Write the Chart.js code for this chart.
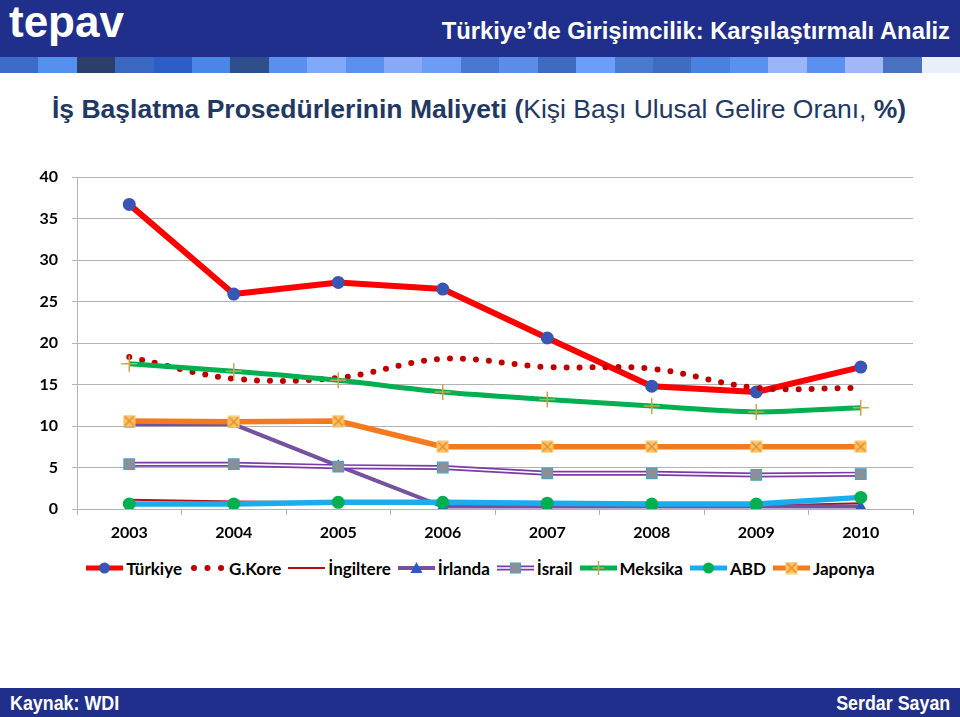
<!DOCTYPE html>
<html>
<head>
<meta charset="utf-8">
<script src="https://cdn.jsdelivr.net/npm/chart.js@4.4.1/dist/chart.umd.min.js"></script>
<style>
  html, body { margin:0; padding:0; background:#fff; }
  #page { position:relative; width:960px; height:717px; overflow:hidden; background:#fff; }
  #hdr { position:absolute; left:0; top:0; width:960px; height:57px; background:#1F2F8B; }
  #logo { position:absolute; left:9px; top:-3px; font:bold 44px "Liberation Sans", Arial, sans-serif; color:#fff; }
  #htitle { position:absolute; right:10px; top:17px; font:bold 23.8px "Liberation Sans", Arial, sans-serif; color:#fff; white-space:nowrap; }
  #stripe { position:absolute; left:0; top:57px; width:960px; height:16px; display:flex; }
  #stripe div { flex:1 1 0; height:16px; }
  #title { position:absolute; left:52px; top:94px; font:26.5px "Liberation Sans", Arial, sans-serif; color:#1F3864; white-space:nowrap; }
  #title b { font-weight:bold; }
  #wrap { position:absolute; left:0; top:150px; width:960px; height:400px; }
  #legend { position:absolute; left:0; top:557px; width:968px; height:22px; display:flex; justify-content:center; align-items:center; font:bold 17px Lato, "Open Sans", sans-serif; color:#000; white-space:nowrap; }
  #legend .it { display:flex; align-items:center; margin-right:7px; }
  #legend canvas { margin-right:3px; }
  #ftr { position:absolute; left:0; top:688px; width:960px; height:29px; background:#1F2F8B; }
  #ftr span { position:absolute; top:3px; font:bold 21px "Liberation Sans", Arial, sans-serif; color:#fff; white-space:nowrap; }
</style>
</head>
<body>
<div id="page">
  <div id="hdr">
    <div id="logo">tepav</div>
    <div id="htitle">Türkiye’de Girişimcilik: Karşılaştırmalı Analiz</div>
  </div>
  <div id="stripe"></div>
  <div id="title"><b>İş Başlatma Prosedürlerinin Maliyeti (</b>Kişi Başı Ulusal Gelire Oranı, <b>%)</b></div>
  <div id="wrap"><canvas id="c"></canvas></div>
  <div id="legend"></div>
  <div id="ftr"><span style="left:10px; transform:scaleX(0.85); transform-origin:left center;">Kaynak: WDI</span><span style="right:10px; transform:scaleX(0.85); transform-origin:right center;">Serdar Sayan</span></div>
</div>
<script>
// ---- data ----
const years = ['2003','2004','2005','2006','2007','2008','2009','2010'];
const turkiye   = [36.7, 25.9, 27.3, 26.5, 20.6, 14.8, 14.1, 17.1];
const gkore     = [18.3, 15.7, 15.8, 18.1, 17.1, 16.9, 14.6, 14.6];
const ingiltere = [1.1, 0.9, 0.8, 0.7, 0.7, 0.6, 0.4, 0.7];
const irlanda   = [10.2, 10.2, 5.2, 0.3, 0.3, 0.3, 0.3, 0.3];
const israil    = [5.4, 5.4, 5.1, 5.0, 4.3, 4.3, 4.1, 4.2];
const meksika   = [17.5, 16.6, 15.5, 14.1, 13.2, 12.4, 11.7, 12.2];
const abd       = [0.6, 0.6, 0.8, 0.8, 0.7, 0.6, 0.6, 1.4];
const japonya   = [10.6, 10.5, 10.6, 7.5, 7.5, 7.5, 7.5, 7.5];
const seriesNames = ['Türkiye','G.Kore','İngiltere','İrlanda','İsrail','Meksika','ABD','Japonya'];
const yTicks = [0, 5, 10, 15, 20, 25, 30, 35, 40];

// ---- header stripe ----
const stripeColors = ['#3D6CC8','#5590EE','#2C3F68','#3A68C0','#2D5EC8','#4B85E6','#2F4F8C','#5B8FEF','#80A8F8','#5C90F0','#88AAF6','#6E9CF4','#4A78D0','#5A8CE8','#3E6AC0','#6A9EF8','#4A7AD0','#3E6CC0','#4A80E0','#5A90F0','#9AB6F8','#5C90F0','#A0B8F8','#4A70C0','#E8EEFA'];
const stripe = document.getElementById('stripe');
stripeColors.forEach(c => { const d = document.createElement('div'); d.style.background = c; stripe.appendChild(d); });

// ---- marker images ----
function japMarker(){
  const c = document.createElement('canvas'); c.width = 13; c.height = 13;
  const x = c.getContext('2d');
  x.fillStyle = '#F7C564'; x.fillRect(0.5,0.5,12,12);
  x.strokeStyle = '#EE8A2E'; x.lineWidth = 1.5;
  x.beginPath(); x.moveTo(2,2); x.lineTo(11,11); x.moveTo(11,2); x.lineTo(2,11); x.stroke();
  return c;
}
const japImg = japMarker();

const C = {
  tur:'#FF0000', turM:'#3A56B4', kor:'#C00000', ing:'#B01010', irl:'#7452A0', irlM:'#2A5CC0',
  isr:'#7A3AA8', isrM:'#8C9096', isrB:'#4AA3C0', mek:'#00B050', mekM:'#D1A24A', abd:'#1AACEC', abdM:'#00B050', jap:'#F47A20'
};

const datasets = [
  { label:seriesNames[0], data:turkiye, borderColor:C.tur, borderWidth:6, borderJoinStyle:'round', pointStyle:'circle', pointRadius:6.5, pointBackgroundColor:C.turM, pointBorderColor:C.turM, pointBorderWidth:0, order:9 },
  { label:seriesNames[1], data:gkore, borderColor:C.kor, borderWidth:6, borderDash:[0,13], borderCapStyle:'round', tension:0.35, pointRadius:0, order:8 },
  { label:seriesNames[2], data:ingiltere, borderColor:C.ing, borderWidth:2, pointRadius:0, order:7 },
  { label:seriesNames[3], data:irlanda, borderColor:C.irl, borderWidth:4, pointStyle:'triangle', pointRadius:6.5, pointBackgroundColor:C.irlM, pointBorderColor:C.irlM, pointBorderWidth:0, order:6 },
  { label:seriesNames[4], data:israil, borderColor:C.isr, borderWidth:5, pointRadius:0, order:5 },
  { label:'_isr_inner', data:israil, borderColor:'#FFFFFF', borderWidth:1.6, pointStyle:'rect', pointRadius:7.5, pointBackgroundColor:C.isrM, pointBorderColor:C.isrB, pointBorderWidth:1.2, order:4 },
  { label:seriesNames[5], data:meksika, borderColor:C.mek, borderWidth:5, tension:0.3, pointStyle:'cross', pointRadius:8, pointBorderColor:C.mekM, pointBorderWidth:1.5, order:3 },
  { label:seriesNames[6], data:abd, borderColor:C.abd, borderWidth:5.5, pointStyle:'circle', pointRadius:6.5, pointBackgroundColor:C.abdM, pointBorderColor:C.abdM, pointBorderWidth:0, order:2 },
  { label:seriesNames[7], data:japonya, borderColor:C.jap, borderWidth:5.5, pointStyle:japImg, pointRadius:7, order:1 }
];
datasets.forEach(d => { d.fill = false; d.backgroundColor = d.borderColor; if (d.tension === undefined) d.tension = 0; });

const GRID = '#B3B3B3';
new Chart(document.getElementById('c'), {
  type:'line',
  data:{ labels:years, datasets },
  options:{
    responsive:true, maintainAspectRatio:false, animation:false,
    layout:{ padding:{ left:0, right:47, top:27, bottom:0 } },
    plugins:{ legend:{ display:false }, tooltip:{ enabled:false } },
    scales:{
      x:{
        offset:true,
        grid:{ offset:true, drawOnChartArea:false, drawTicks:true, tickLength:6, color:GRID },
        border:{ color:GRID, width:1 },
        ticks:{ padding:8, color:'#000', font:{ family:'Lato', size:16, weight:'bold' } },
        afterFit:(s)=>{ s.height = 41; }
      },
      y:{
        min:0, max:40,
        afterBuildTicks:(s)=>{ s.ticks = yTicks.map(v=>({value:v})); },
        grid:{ color:GRID, tickLength:5, drawTicks:true },
        border:{ color:GRID, width:1 },
        ticks:{ padding:14, color:'#000', font:{ family:'Lato', size:16, weight:'bold' } },
        afterFit:(s)=>{ s.width = 77; }
      }
    }
  }
});

// ---- legend (HTML) ----
function drawIcon(i){
  const W = 37;
  const cv = document.createElement('canvas'); cv.width = W; cv.height = 14;
  const x = cv.getContext('2d'); const cy = 7, mx = W/2;
  function line(color, w){ x.strokeStyle = color; x.lineWidth = w; x.beginPath(); x.moveTo(0,cy); x.lineTo(W,cy); x.stroke(); }
  function circ(color, r){ x.fillStyle = color; x.beginPath(); x.arc(mx,cy,r,0,Math.PI*2); x.fill(); }
  switch(i){
    case 0: line(C.tur,5); circ(C.turM,5.5); break;
    case 1: x.fillStyle = C.kor; [5,mx,W-5].forEach(px=>{ x.beginPath(); x.arc(px,cy,3,0,Math.PI*2); x.fill(); }); break;
    case 2: line(C.ing,2); break;
    case 3: line(C.irl,4); x.fillStyle=C.irlM; x.beginPath(); x.moveTo(mx,1); x.lineTo(mx+6,12); x.lineTo(mx-6,12); x.closePath(); x.fill(); break;
    case 4: line(C.isr,5); line('#fff',1.6); x.fillStyle=C.isrM; x.fillRect(mx-5,2,10,10); x.strokeStyle=C.isrB; x.lineWidth=1; x.strokeRect(mx-5,2,10,10); break;
    case 5: line(C.mek,5); x.strokeStyle=C.mekM; x.lineWidth=1.5; x.beginPath(); x.moveTo(mx,0); x.lineTo(mx,14); x.moveTo(mx-6,cy); x.lineTo(mx+6,cy); x.stroke(); break;
    case 6: line(C.abd,5); circ(C.abdM,5.5); break;
    case 7: line(C.jap,5); x.drawImage(japImg, mx-6.5, 0.5); break;
  }
  return cv;
}
const lg = document.getElementById('legend');
seriesNames.forEach((n,i)=>{
  const it = document.createElement('div'); it.className = 'it';
  it.appendChild(drawIcon(i));
  const s = document.createElement('span'); s.textContent = n; it.appendChild(s);
  lg.appendChild(it);
});
</script>
</body>
</html>
